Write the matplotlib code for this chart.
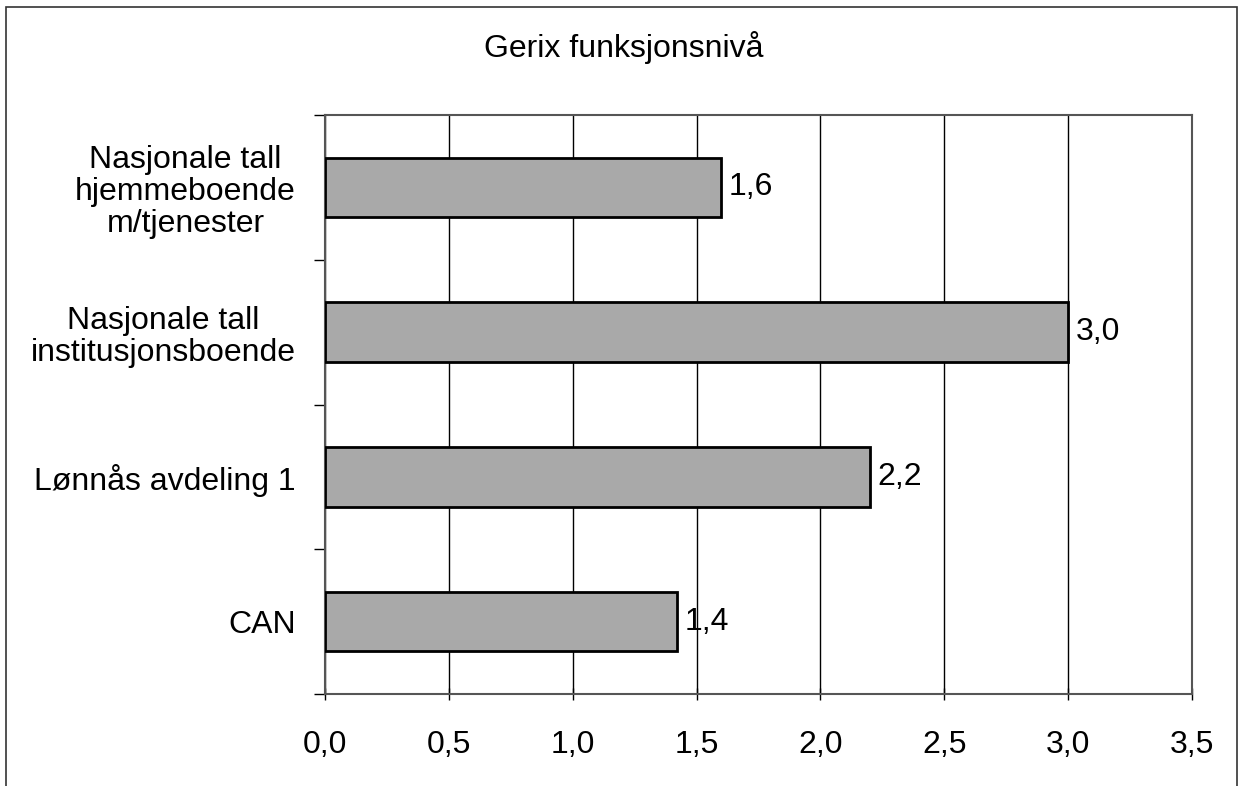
import matplotlib.pyplot as plt
from matplotlib.patches import Rectangle

plt.rcParams['font.family'] = ['Liberation Sans', 'DejaVu Sans']

# Data (bottom to top as drawn)
categories = ['CAN', 'Lønnås avdeling 1', 'Nasjonale tall\ninstitusjonsboende',
              'Nasjonale tall\nhjemmeboende\nm/tjenester']
values = [1.42, 2.2, 3.0, 1.6]
value_labels = ['1,4', '2,2', '3,0', '1,6']
xticks = [0.0, 0.5, 1.0, 1.5, 2.0, 2.5, 3.0, 3.5]
title = 'Gerix funksjonsnivå'

W, H = 1239, 786
fig = plt.figure(figsize=(W / 100, H / 100), dpi=100)

# plot area in pixels: left 325, right 1192, top 115, bottom 694
ax = fig.add_axes([325 / W, 1 - 694 / H, (1192 - 325) / W, (694 - 115) / H])

pos = range(len(categories))
ax.barh(pos, values, height=0.41, color='#a9a9a9', edgecolor='black',
        linewidth=2, zorder=3)

for y, v, lab in zip(pos, values, value_labels):
    ax.text(v + 0.03, y, lab, va='center', ha='left', fontsize=23, zorder=4)

ax.set_xlim(0, 3.5)
ax.set_ylim(-0.5, len(categories) - 0.5)
ax.set_xticks(xticks)
ax.set_xticklabels([f'{t:.1f}'.replace('.', ',') for t in xticks], fontsize=23)
ax.tick_params(axis='x', length=8, width=1, pad=22, direction='inout')

# y ticks at category boundaries, labels centred in bands
ax.set_yticks([i - 0.5 for i in range(len(categories) + 1)])
ax.set_yticklabels([])
ax.set_yticks(list(pos), minor=True)
ax.set_yticklabels(categories, minor=True, fontsize=23, ha='right',
                   multialignment='center', linespacing=1.1)
ax.tick_params(axis='y', which='major', length=8, width=1, direction='out')
ax.tick_params(axis='y', which='minor', length=0, pad=21)

ax.grid(axis='x', color='black', linewidth=1, zorder=0)
for s in ax.spines.values():
    s.set_color('#555555')
    s.set_linewidth(1.5)

fig.text(624 / W, 1 - 48 / H, title, ha='center', va='center', fontsize=23)

# outer chart frame
fig.patches.append(Rectangle((6 / W, -0.05), (1237 - 6) / W, 1 - 7 / H + 0.05,
                             transform=fig.transFigure, fill=False,
                             edgecolor='#333333', linewidth=1.2))

fig.savefig('out.png', dpi=100)
